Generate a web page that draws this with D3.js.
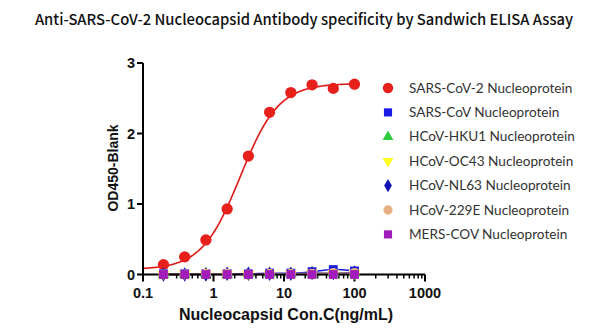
<!DOCTYPE html>
<html><head><meta charset="utf-8">
<script src="https://cdn.jsdelivr.net/npm/d3@7"></script>
<style>body{margin:0;background:#fff}svg{display:block}</style>
</head><body>
<svg id="c" width="600" height="334"></svg>
<script>
const conc = [0.195, 0.39, 0.78, 1.5625, 3.125, 6.25, 12.5, 25, 50, 100];
const sars2 = [0.14, 0.25, 0.49, 0.93, 1.68, 2.30, 2.58, 2.69, 2.64, 2.70];
const sars = [0.01, 0.01, 0.01, 0.01, 0.01, 0.02, 0.02, 0.04, 0.07, 0.05];
const hku1 = [0.00, 0.00, 0.01, 0.00, 0.01, 0.01, 0.01, 0.01, 0.02, 0.02];
const oc43 = [0.00, 0.01, 0.00, 0.01, 0.00, 0.01, 0.01, 0.02, 0.02, 0.02];
const nl63 = [0.00, 0.00, 0.00, 0.01, 0.01, 0.01, 0.01, 0.02, 0.02, 0.03];
const e229 = [0.00, 0.00, 0.01, 0.01, 0.00, 0.01, 0.01, 0.01, 0.02, 0.02];
const mers = [0.00, 0.00, 0.00, 0.00, 0.00, 0.00, 0.00, 0.00, 0.00, 0.00];
const seriesNames = ["SARS-CoV-2 Nucleoprotein","SARS-CoV Nucleoprotein","HCoV-HKU1 Nucleoprotein","HCoV-OC43 Nucleoprotein","HCoV-NL63 Nucleoprotein","HCoV-229E Nucleoprotein","MERS-COV Nucleoprotein"];
// 4PL fit parameters for SARS-CoV-2 curve (bottom, top, EC50, Hill)
const fitSars2 = {bottom: 0.07, top: 2.71, ec50: 2.4, hill: 1.6};
const xTicks = [0.1, 1, 10, 100, 1000];
const yTicks = [0, 1, 2, 3];

const svg = d3.select("#c");
const x = d3.scaleLog().domain([0.1, 1000]).range([143, 425]);
const y = d3.scaleLinear().domain([0, 3]).range([274.5, 63]);

svg.append("text").attr("x", 304).attr("y", 25).attr("text-anchor", "middle")
  .attr("font-family", "'Noto Sans CJK SC', 'Noto Sans', sans-serif").attr("font-weight", 500)
  .attr("font-size", 14.8).attr("fill", "#111")
  .text("Anti-SARS-CoV-2 Nucleocapsid Antibody specificity by Sandwich ELISA Assay");

const series = [
  {name: seriesNames[0], vals: sars2, color: "#e8201c", shape: d3.symbolCircle, size: 100},
  {name: seriesNames[1], vals: sars, color: "#1a1ae6", shape: d3.symbolSquare, size: 78},
  {name: seriesNames[2], vals: hku1, color: "#2ecc40", shape: d3.symbolTriangle, size: 60},
  {name: seriesNames[3], vals: oc43, color: "#ffff22", shape: d3.symbolTriangle, size: 60, flip: true},
  {name: seriesNames[4], vals: nl63, color: "#1010b8", shape: d3.symbolDiamond, size: 60},
  {name: seriesNames[5], vals: e229, color: "#e8b080", shape: d3.symbolCircle, size: 80},
  {name: seriesNames[6], vals: mers, color: "#a21cbc", shape: d3.symbolSquare, size: 78}
];

// fitted SARS-CoV-2 curve
const f = fitSars2;
const curveX = d3.range(-1, 2.0001, 0.02).map(e => Math.pow(10, e));
const fitFn = c => f.bottom + (f.top - f.bottom) / (1 + Math.pow(f.ec50 / c, f.hill));
svg.append("path").attr("d", d3.line().x(c => x(c)).y(c => y(fitFn(c)))(curveX))
  .attr("fill", "none").attr("stroke", "#e01818").attr("stroke-width", 1.6);

// low series lines
series.slice(1).forEach(s => {
  svg.append("path").attr("d", d3.line().curve(d3.curveMonotoneX).x((d, i) => x(conc[i])).y(d => y(d))(s.vals))
    .attr("fill", "none").attr("stroke", s.color).attr("stroke-width", 1.4);
});

// axes
const xAxis = svg.append("g").attr("transform", `translate(0,${y(0)})`);
xAxis.append("line").attr("x1", x(0.1)).attr("x2", x(1000)).attr("stroke", "#000").attr("stroke-width", 2);
const minor = [];
[0.1, 1, 10, 100].forEach(d => { for (let k = 2; k <= 9; k++) minor.push(d * k); });
xAxis.selectAll(".mn").data(minor).join("line").attr("x1", d => x(d)).attr("x2", d => x(d))
  .attr("y1", 0).attr("y2", 4).attr("stroke", "#000").attr("stroke-width", 1.5);
xAxis.selectAll(".mj").data(xTicks).join("line").attr("x1", d => x(d)).attr("x2", d => x(d))
  .attr("y1", 0).attr("y2", 7).attr("stroke", "#000").attr("stroke-width", 2);
xAxis.selectAll(".tl").data(xTicks).join("text").attr("x", d => x(d)).attr("y", 23)
  .attr("text-anchor", "middle").attr("font-family", "'Liberation Sans', Arial, sans-serif")
  .attr("font-weight", "bold").attr("font-size", 14.5).attr("fill", "#111").text(d => d3.format("~g")(d));

const yAxis = svg.append("g");
yAxis.append("line").attr("x1", x(0.1)).attr("x2", x(0.1)).attr("y1", y(0) + 1).attr("y2", y(3)).attr("stroke", "#000").attr("stroke-width", 2);
yAxis.selectAll(".mj").data(yTicks).join("line").attr("x1", x(0.1) - 6).attr("x2", x(0.1))
  .attr("y1", d => y(d)).attr("y2", d => y(d)).attr("stroke", "#000").attr("stroke-width", 2);
yAxis.selectAll(".tl").data(yTicks).join("text").attr("x", x(0.1) - 8).attr("y", d => y(d) + 5)
  .attr("text-anchor", "end").attr("font-family", "'Liberation Sans', Arial, sans-serif")
  .attr("font-weight", "bold").attr("font-size", 14.5).attr("fill", "#111").text(d => d);

svg.append("text").attr("transform", `translate(118,168) rotate(-90)`).attr("text-anchor", "middle")
  .attr("font-family", "'Liberation Sans', Arial, sans-serif").attr("font-weight", "bold")
  .attr("font-size", 14).attr("fill", "#111").text("OD450-Blank");
svg.append("text").attr("x", 286).attr("y", 320).attr("text-anchor", "middle")
  .attr("font-family", "'Liberation Sans', Arial, sans-serif").attr("font-weight", "bold")
  .attr("font-size", 16).attr("fill", "#111").text("Nucleocapsid Con.C(ng/mL)");

const drawPts = s => {
  svg.append("g").selectAll("path").data(s.vals).join("path")
    .attr("d", d3.symbol().type(s.shape).size(s.size))
    .attr("transform", (d, i) => `translate(${x(conc[i])},${y(d)})${s.flip ? " rotate(180)" : ""}`)
    .attr("fill", s.color);
};
series.forEach(drawPts);

// legend
const leg = svg.append("g");
series.forEach((s, i) => {
  const ly = 88 + i * 24.4;
  leg.append("path").attr("d", d3.symbol().type(s.shape).size(s.size * 0.85))
    .attr("transform", `translate(388,${ly})${s.flip ? " rotate(180)" : ""}`).attr("fill", s.color);
  leg.append("text").attr("x", 409).attr("y", ly + 4.5)
    .attr("font-family", "Lato, 'Open Sans', sans-serif").attr("font-size", 13.6).attr("fill", "#333").text(s.name);
});
</script>
</body></html>
